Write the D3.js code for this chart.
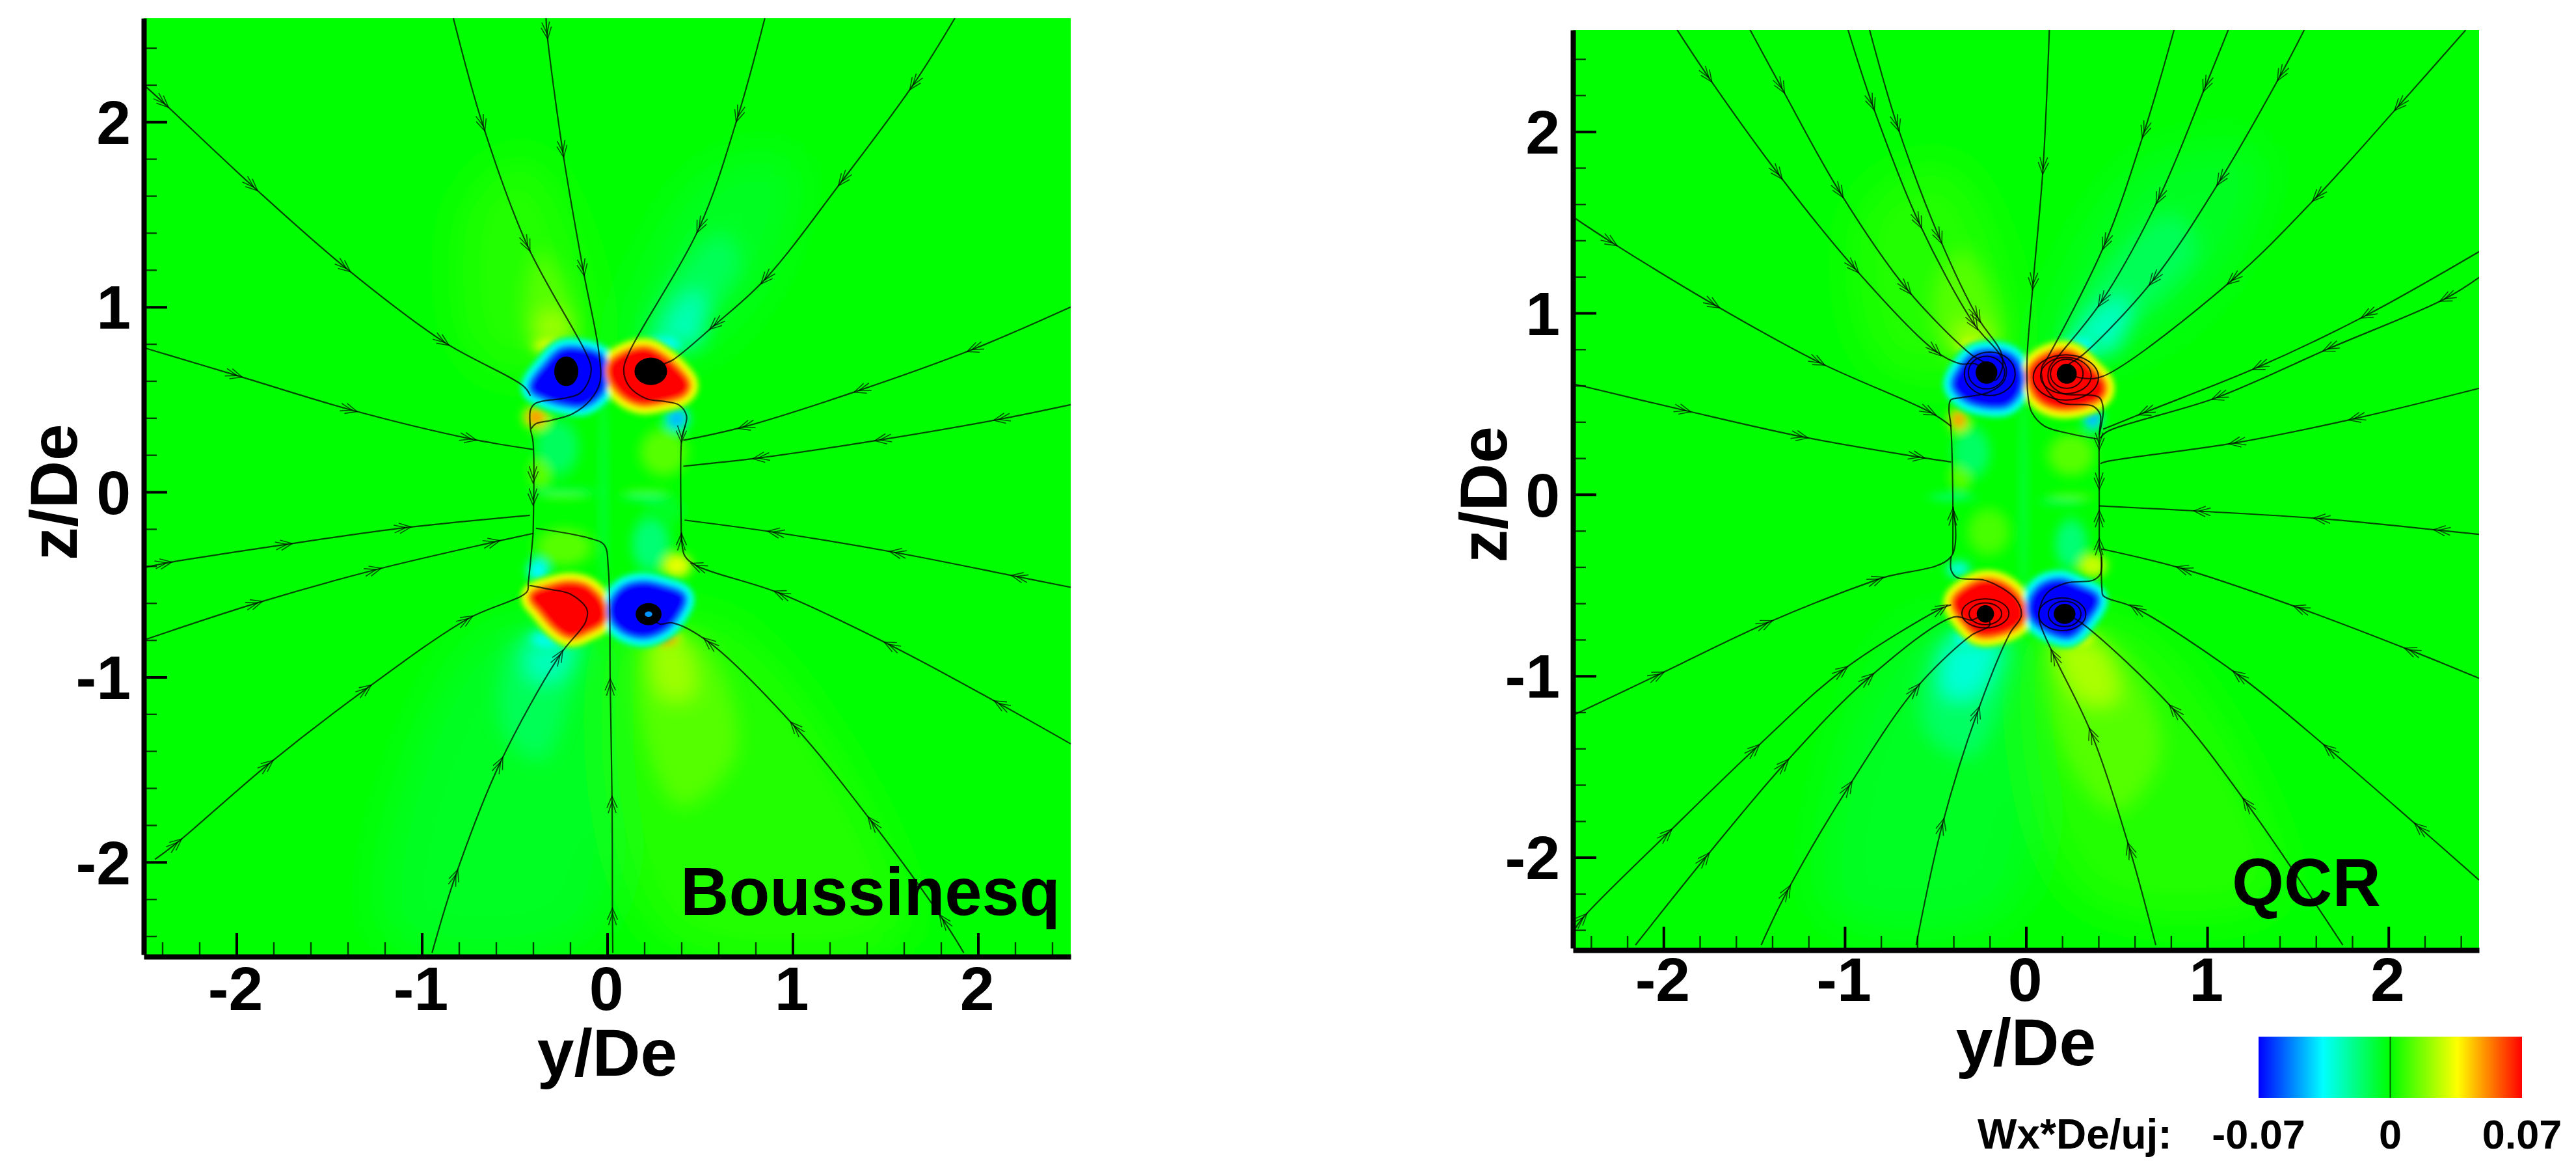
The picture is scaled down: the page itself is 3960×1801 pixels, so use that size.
<!DOCTYPE html>
<html>
<head>
<meta charset="utf-8">
<title>Wx*De/uj contours</title>
<script src="https://cdn.jsdelivr.net/npm/d3@7"></script>
<style>
html,body{margin:0;padding:0;background:#fff}
svg{display:block}
text{font-family:"Liberation Sans",Arial,sans-serif;font-weight:bold;fill:#000}
</style>
</head>
<body>
<svg id="chart" width="3960" height="1801"></svg>
<script>
// axis ticks (both panels use the same ones)
var majorTicks=[-2,-1,0,1,2];
var minorTicks=[-2.4,-2.2,-1.8,-1.6,-1.4,-1.2,-0.8,-0.6,-0.4,-0.2,0.2,0.4,0.6,0.8,1.2,1.4,1.6,1.8,2.2,2.4];
var xDomain=[-2.5,2.5];
var zDomain=[-2.5,2.56];

// colour map of the legend
var colorLevels=[-0.07,-0.0357,0,0.0357,0.07];
var colorNames=["#0000ff","#00ffff","#00ff00","#ffff00","#ff0000"];
var legendLabels=[-0.07,0,0.07];

// Boussinesq panel: saturated vortices [value, outline in y/De z/De]
var leftVortices=[
 [-0.07,[[-.396,.564],[-.315,.685],[-.244,.753],[-.162,.76],[-.04,.719],[-.028,.645],[-.04,.551],[-.127,.484],[-.233,.49],[-.338,.524]]],
 [0.07,[[.03,.685],[.106,.739],[.212,.76],[.294,.719],[.364,.659],[.422,.578],[.399,.537],[.294,.504],[.188,.49],[.095,.531],[.03,.618]]],
 [0.07,[[-.396,-.566],[-.303,-.525],[-.209,-.505],[-.116,-.525],[-.04,-.606],[-.034,-.687],[-.116,-.74],[-.197,-.767],[-.268,-.727],[-.35,-.633]]],
 [-0.07,[[.042,-.592],[.106,-.525],[.2,-.505],[.294,-.525],[.399,-.572],[.364,-.66],[.305,-.727],[.2,-.767],[.095,-.74],[.036,-.673]]]
];
// weak plumes leaving the vortices [value, outline], weakest first
var leftPlumes=[
 [0.005,[[-.7,.7],[-.75,1.6],[-.4,1.8],[-.1,.75]]],
 [-0.005,[[.1,.75],[.5,1.7],[1.0,1.8],[.9,1.2],[.5,.75]]],
 [-0.005,[[-.7,-.75],[-1.2,-2.4],[-.1,-2.4],[-.05,-.75]]],
 [0.005,[[.1,-.75],[.3,-2.4],[1.6,-2.4],[.7,-.75]]],
 [0.012,[[-.4,.8],[-.44,1.1],[-.36,1.3],[-.22,1.1],[-.18,.8]]],
 [-0.012,[[.2,.8],[.35,1.15],[.62,1.4],[.72,1.25],[.55,.95],[.45,.8]]],
 [-0.012,[[-.5,-.8],[-.56,-1.3],[-.35,-1.45],[-.2,-1.1],[-.12,-.8]]],
 [0.012,[[.2,-.8],[.22,-1.4],[.4,-1.7],[.7,-1.4],[.5,-.8]]],
 [0.022,[[-.37,.8],[-.37,.95],[-.22,.95],[-.22,.8]]],
 [-0.025,[[.3,.8],[.37,1.0],[.5,1.08],[.5,.8]]],
 [-0.026,[[-.4,-.8],[-.42,-1.0],[-.25,-1.0],[-.2,-.8]]],
 [0.022,[[.26,-.8],[.29,-1.1],[.46,-1.1],[.4,-.8]]]
];
// small spots [y, z, half width, half height, value]
var leftSpots=[
 [-.02,0,.014,.5,-.009],[.305,.215,.1,.1,.012],[-.27,.24,.09,.12,-.013],[.235,-.283,.08,.12,-.016],
 [-.233,-.296,.12,.08,.012],[-.36,.107,.05,.07,.012],[.21,-.03,.1,.013,-.016],[.21,0,.1,.012,.01],
 [-.233,-.02,.1,.012,.012],[-.233,0,.14,.012,-.014],[.315,-.1,.08,.06,-.005],
 [-.315,.793,.07,.035,.03],[.31,.8,.08,.035,-.035],[-.326,-.8,.08,.04,-.033],[.317,-.794,.06,.03,.052],
 [-.373,-.424,.045,.05,-.036],[.376,-.397,.06,.05,.032],[-.385,.403,.05,.045,.05],[.376,.396,.05,.05,-.045]
];
// streamlines, in flow direction
var leftStreamlines=[
 [[-2.5,2.2],[-2.39,2.1],[-1.91,1.65],[-1.41,1.21],[-.88,.81],[-.45,.57],[-.415,.52]],
 [[-.83,2.56],[-.67,1.98],[-.43,1.33],[-.116,.753],[-.087,.672],[-.104,.591],[-.151,.531],[-.245,.504],[-.338,.493],[-.39,.477],[-.414,.443],[-.414,.342],[-.4,.269],[-.4,-.229]],
 [[-.33,2.56],[-.325,2.48],[-.24,1.84],[-.13,1.2],[-.046,.76],[-.04,.591],[-.092,.497],[-.186,.423],[-.303,.387],[-.385,.369],[-.41,.342]],
 [[-2.5,.78],[-2,.63],[-1.38,.443],[-.737,.287],[-.4,.23]],
 [[.85,2.56],[.705,2.03],[.497,1.43],[.118,.753],[.089,.659],[.118,.571],[.212,.504],[.305,.49],[.387,.47],[.428,.41],[.41,.322],[.4,.269],[.4,-.27]],
 [[1.875,2.56],[1.65,2.2],[1.266,1.68],[.85,1.148],[.577,.9],[.353,.713],[.3,.69],[.235,.652]],
 [[2.5,1.0],[1.97,.77],[1.362,.55],[.737,.352],[.41,.279]],
 [[2.5,.472],[2.115,.393],[1.474,.282],[.817,.184],[.41,.139]],
 [[-2.5,-.41],[-2.38,-.384],[-1.73,-.283],[-1.09,-.193],[-.417,-.126]],
 [[-2.5,-.8],[-1.89,-.6],[-1.25,-.42],[-.61,-.27],[-.4,-.224]],
 [[.03,-2.49],[.028,-2.28],[.026,-1.675],[.016,-1.04],[.006,-.417],[-.016,-.286],[-.096,-.25],[-.385,-.196]],
 [[-2.44,-1.985],[-2.32,-1.895],[-1.827,-1.47],[-1.298,-1.062],[-.753,-.686],[-.433,-.539],[-.426,-.491],[-.414,-.377],[-.4,-.229]],
 [[-.945,-2.49],[-.817,-2.07],[-.577,-1.462],[-.256,-.882],[-.116,-.7],[-.11,-.633],[-.198,-.552],[-.315,-.525],[-.42,-.505]],
 [[2.5,-.515],[2.21,-.457],[1.554,-.327],[.897,-.217],[.417,-.152]],
 [[2.5,-1.361],[2.115,-1.144],[1.522,-.825],[.929,-.547],[.48,-.397],[.417,-.343],[.4,-.22]],
 [[1.923,-2.49],[1.81,-2.31],[1.426,-1.781],[1.01,-1.266],[.545,-.809],[.351,-.707],[.282,-.713],[.223,-.66]]
];
// arrows sitting on the jet wall [y, z, direction in z]
var leftWallArrows=[[-.4,.08,-1],[-.4,-.04,-1],[.4,-.256,1],[.4,.3,-1]];
// tightly wound spiral cores [y, z, half width, half height]
var leftCores=[[-.221,.652,.065,.08],[.235,.652,.088,.074],[.223,-.66,.07,.06]];
var leftCoreHoles=[[.223,-.66,.02,.015]];
var leftRings=[];

// QCR panel
var rightVortices=[
 [-0.07,[[-.385,.603],[-.35,.686],[-.278,.761],[-.182,.775],[-.086,.747],[-.044,.672],[-.05,.576],[-.11,.507],[-.206,.5],[-.326,.535]]],
 [0.07,[[.033,.672],[.081,.734],[.189,.775],[.261,.761],[.345,.686],[.416,.603],[.404,.549],[.297,.5],[.165,.494],[.069,.549]]],
 [0.07,[[-.385,-.59],[-.29,-.508],[-.206,-.487],[-.11,-.521],[-.038,-.604],[-.032,-.686],[-.11,-.741],[-.254,-.761],[-.338,-.686]]],
 [-0.07,[[.039,-.59],[.093,-.515],[.189,-.487],[.285,-.521],[.38,-.576],[.321,-.686],[.237,-.768],[.129,-.741],[.045,-.672]]]
];
var rightPlumes=[
 [0.005,[[-.8,.7],[-.9,1.6],[-.4,1.8],[-.1,.75]]],
 [-0.005,[[.1,.75],[.6,1.8],[1.3,1.9],[1.1,1.2],[.5,.75]]],
 [-0.005,[[-.7,-.75],[-1.1,-2.3],[-.1,-2.3],[-.05,-.75]]],
 [0.005,[[.08,-.75],[.3,-2.2],[1.4,-2.2],[.65,-.75]]],
 [0.012,[[-.45,.8],[-.5,1.15],[-.35,1.35],[-.18,1.1],[-.14,.8]]],
 [-0.012,[[.2,.8],[.4,1.2],[.8,1.55],[.95,1.35],[.6,.95],[.45,.8]]],
 [-0.014,[[-.48,-.8],[-.56,-1.3],[-.3,-1.45],[-.12,-1.1],[-.08,-.8]]],
 [0.012,[[.13,-.8],[.25,-1.5],[.5,-1.75],[.75,-1.4],[.45,-.8]]],
 [0.023,[[-.37,.8],[-.38,.92],[-.22,.92],[-.2,.8]]],
 [-0.027,[[.26,.8],[.38,1.0],[.55,1.08],[.5,.8]]],
 [-0.03,[[-.4,-.8],[-.45,-1.1],[-.27,-1.1],[-.17,-.8]]],
 [0.024,[[.18,-.8],[.3,-1.13],[.5,-1.13],[.38,-.8]]]
];
var rightSpots=[
 [-.014,0,.014,.5,-.009],[.249,.219,.1,.09,.012],[-.302,.233,.08,.11,-.014],[.249,-.274,.07,.11,-.016],
 [-.206,-.206,.09,.1,.01],[-.36,.1,.05,.06,.012],[-.41,-.014,.1,.012,-.02],[.2,-.04,.1,.012,-.014],[.25,-.01,.1,.012,.012],
 [-.302,.83,.07,.03,.03],[.297,.823,.08,.035,-.035],[-.314,-.8,.08,.035,-.035],[.297,-.796,.07,.035,.032],
 [-.373,-.412,.05,.035,-.03],[.369,-.391,.06,.05,.028],[-.373,.411,.04,.045,.05],[.369,.418,.04,.05,-.045]
];
var rightStreamlines=[
 [[-1.929,2.567],[-1.752,2.3],[-1.365,1.764],[-.945,1.246],[-.494,.786],[-.362,.72],[-.28,.72],[-.218,.672]],
 [[-1.526,2.567],[-1.348,2.24],[-1.026,1.664],[-.655,1.129],[-.3,.769],[-.22,.72],[-.18,.66]],
 [[-.984,2.567],[-.848,2.149],[-.59,1.497],[-.284,.936],[-.155,.786],[-.11,.7],[-.122,.624],[-.206,.563],[-.349,.535],[-.415,.521],[-.425,.466],[-.415,.384],[-.404,.014],[-.404,-.329]],
 [[-.865,2.567],[-.71,2.032],[-.477,1.413],[-.268,.978],[-.139,.786],[-.13,.7],[-.17,.63],[-.22,.66]],
 [[.129,2.567],[.094,1.798],[.039,1.162],[.006,.744],[.013,.527],[.032,.452],[.103,.376],[.248,.334],[.394,.306]],
 [[.819,2.567],[.652,1.998],[.435,1.38],[.119,.753],[.087,.7],[.1,.604],[.189,.507],[.369,.487],[.41,.439],[.404,.33],[.404,.014],[.404,-.3]],
 [[1.119,2.567],[.99,2.249],[.732,1.63],[.416,1.062],[.184,.769],[.129,.698],[.129,.617],[.201,.556],[.309,.549],[.404,.535],[.426,.472],[.404,.33]],
 [[1.539,2.567],[1.403,2.308],[1.071,1.731],[.7,1.179],[.313,.769],[.24,.72],[.18,.66]],
 [[2.426,2.559],[2.055,2.14],[1.603,1.639],[1.135,1.179],[.426,.652],[.32,.64],[.225,.665]],
 [[2.5,1.338],[1.877,.987],[1.281,.702],[.652,.451],[.426,.36]],
 [[2.5,1.196],[2.313,1.079],[1.668,.803],[1.055,.535],[.442,.343],[.41,.31]],
 [[2.5,.585],[1.813,.418],[1.152,.284],[.442,.181],[.41,.17]],
 [[-2.5,1.53],[-2.284,1.388],[-1.719,1.045],[-1.139,.727],[-.526,.452],[-.413,.376]],
 [[-2.5,.61],[-1.881,.463],[-1.235,.318],[-.59,.206],[-.413,.179]],
 [[-2.5,-1.217],[-2.026,-.992],[-1.429,-.708],[-.816,-.467],[-.413,-.342],[-.403,-.067]],
 [[-.606,-2.483],[-.461,-1.817],[-.268,-1.2],[-.09,-.767],[-.026,-.667],[-.058,-.575],[-.219,-.475],[-.381,-.458],[-.413,-.417],[-.413,-.342]],
 [[-2.5,-2.41],[-2.445,-2.333],[-1.977,-1.867],[-1.494,-1.4],[-1.01,-.967],[-.461,-.625],[-.413,-.608]],
 [[-2.155,-2.483],[-1.768,-2.0],[-1.332,-1.483],[-.865,-1.008],[-.397,-.675],[-.3,-.692],[-.229,-.653]],
 [[-1.461,-2.483],[-1.316,-2.183],[-.977,-1.608],[-.606,-1.067],[-.3,-.775],[-.2,-.72],[-.22,-.66]],
 [[.716,-2.483],[.571,-1.95],[.361,-1.317],[.152,-.883],[.075,-.7],[.075,-.631],[.117,-.542],[.225,-.487],[.369,-.473],[.41,-.439],[.416,-.343],[.404,-.3]],
 [[1.748,-2.483],[1.216,-1.7],[.813,-1.183],[.329,-.725],[.216,-.653]],
 [[2.5,-2.125],[2.168,-1.833],[1.668,-1.4],[1.168,-.992],[.603,-.625],[.426,-.558],[.419,-.52],[.416,-.343]],
 [[2.5,-1.013],[2.119,-.858],[1.506,-.625],[.861,-.408],[.416,-.3]],
 [[2.5,-.22],[2.281,-.197],[1.619,-.133],[.958,-.092],[.403,-.063]]
];
var rightWallArrows=[[.404,.06,-1],[.404,-.12,1],[.404,-.274,1],[-.404,-.11,1],[.404,.28,-1]];
var rightCores=[[-.218,.672,.06,.062],[.225,.665,.055,.055],[-.224,-.658,.048,.048],[.213,-.658,.06,.055]];
var rightCoreHoles=[];
var rightRings=[
 [-.218,.672,.1,.09],[-.2,.665,.14,.12],[.225,.665,.09,.08],[.22,.655,.14,.1],[.22,.645,.18,.125],
 [-.224,-.658,.09,.06],[-.224,-.655,.13,.08],[.213,-.658,.09,.07],[.2,-.66,.13,.09]
];

var svg=d3.select("#chart");
var defs=svg.append("defs");
var color=d3.scaleLinear().domain(colorLevels).range(colorNames).clamp(true);

var addBlur=function(id,amount){
	defs.append("filter").attr("id",id)
		.attr("filterUnits","userSpaceOnUse").attr("x",0).attr("y",0).attr("width",3960).attr("height",1801)
		.append("feGaussianBlur").attr("stdDeviation",amount);
};
addBlur("blurWider",34);
addBlur("blurWide",15);
addBlur("blurSpot",7);
addBlur("blurEdge",3.5);
addBlur("blurLine",0.6);

var drawPanel=function(cfg){
	var x=d3.scaleLinear().domain(xDomain).range(cfg.xRange);
	var z=d3.scaleLinear().domain(zDomain).range(cfg.zRange);
	var unitX=function(v){return x(v)-x(0)};
	var unitZ=function(v){return z(0)-z(v)};
	var closed=d3.line().x(function(d){return x(d[0])}).y(function(d){return z(d[1])}).curve(d3.curveCatmullRomClosed);
	var smooth=d3.line().x(function(d){return x(d[0])}).y(function(d){return z(d[1])}).curve(d3.curveCatmullRom);

	defs.append("clipPath").attr("id",cfg.id+"Clip").append("rect")
		.attr("x",cfg.xRange[0]).attr("y",cfg.zRange[1])
		.attr("width",cfg.xRange[1]-cfg.xRange[0]).attr("height",cfg.zRange[0]-cfg.zRange[1]);

	var g=svg.append("g").attr("clip-path","url(#"+cfg.id+"Clip)");
	g.append("rect")
		.attr("x",cfg.xRange[0]).attr("y",cfg.zRange[1])
		.attr("width",cfg.xRange[1]-cfg.xRange[0]).attr("height",cfg.zRange[0]-cfg.zRange[1])
		.attr("fill",color(0));

	g.append("g").attr("filter","url(#blurWider)").selectAll("path")
		.data(cfg.plumes.filter(function(d){return Math.abs(d[0])<0.008})).enter().append("path")
		.attr("d",function(d){return closed(d[1])})
		.attr("fill",function(d){return color(d[0])});
	g.append("g").attr("filter","url(#blurWide)").selectAll("path")
		.data(cfg.plumes.filter(function(d){return Math.abs(d[0])>=0.008})).enter().append("path")
		.attr("d",function(d){return closed(d[1])})
		.attr("fill",function(d){return color(d[0])});

	var spots=g.append("g").attr("filter","url(#blurSpot)");
	var byStrength=cfg.spots.slice().sort(function(a,b){return Math.abs(a[4])-Math.abs(b[4])});
	spots.selectAll("ellipse.halo").data(byStrength).enter().append("ellipse").attr("class","halo")
		.attr("cx",function(d){return x(d[0])}).attr("cy",function(d){return z(d[1])})
		.attr("rx",function(d){return unitX(d[2])*1.5}).attr("ry",function(d){return unitZ(d[3])*1.5})
		.attr("fill",function(d){return color(d[4]*0.45)});
	spots.selectAll("ellipse.spot").data(byStrength).enter().append("ellipse").attr("class","spot")
		.attr("cx",function(d){return x(d[0])}).attr("cy",function(d){return z(d[1])})
		.attr("rx",function(d){return unitX(d[2])}).attr("ry",function(d){return unitZ(d[3])})
		.attr("fill",function(d){return color(d[4])});

	// colour bands round each saturated vortex, widest first
	var vort=g.append("g").attr("filter","url(#blurEdge)");
	[[0.25,44],[0.5,32],[0.75,20],[1,8]].forEach(function(band){
		vort.append("g").selectAll("path").data(cfg.vortices).enter().append("path")
			.attr("d",function(d){return closed(d[1])})
			.attr("fill",function(d){return color(d[0]*band[0])})
			.attr("stroke",function(d){return color(d[0]*band[0])})
			.attr("stroke-width",band[1]).attr("stroke-linejoin","round");
	});

	var lines=g.append("g").attr("filter","url(#blurLine)");
	lines.selectAll("path.stream").data(cfg.streamlines).enter().append("path").attr("class","stream")
		.attr("d",smooth).attr("fill","none").attr("stroke","#000").attr("stroke-width",2.2).attr("stroke-opacity",0.72);

	// arrows on the vertices outside the vortex region
	var arrows=[];
	cfg.streamlines.forEach(function(line){
		for(var i=1;i<line.length-1;i++){
			if(Math.abs(line[i][1])>0.8||Math.abs(line[i][0])>0.46){
				var dx=x(line[i+1][0])-x(line[i-1][0]);
				var dy=z(line[i+1][1])-z(line[i-1][1]);
				arrows.push({x:x(line[i][0]),y:z(line[i][1]),a:Math.atan2(dy,dx)*180/Math.PI});
			}
		}
	});
	cfg.wallArrows.forEach(function(d){
		arrows.push({x:x(d[0]),y:z(d[1]),a:d[2]>0?-90:90});
	});
	lines.selectAll("path.arrow").data(arrows).enter().append("path").attr("class","arrow")
		.attr("transform",function(d){return "translate("+d.x+","+d.y+") rotate("+d.a+")"})
		.attr("d","M-9,-8L9,0L-9,8M-17,-6L1,0L-17,6")
		.attr("fill","none").attr("stroke","#000").attr("stroke-width",1.6).attr("stroke-opacity",0.65);

	lines.selectAll("ellipse.ring").data(cfg.rings).enter().append("ellipse").attr("class","ring")
		.attr("cx",function(d){return x(d[0])}).attr("cy",function(d){return z(d[1])})
		.attr("rx",function(d){return unitX(d[2])}).attr("ry",function(d){return unitZ(d[3])})
		.attr("fill","none").attr("stroke","#000").attr("stroke-width",2).attr("stroke-opacity",0.8);
	lines.selectAll("ellipse.core").data(cfg.cores).enter().append("ellipse").attr("class","core")
		.attr("cx",function(d){return x(d[0])}).attr("cy",function(d){return z(d[1])})
		.attr("rx",function(d){return unitX(d[2])}).attr("ry",function(d){return unitZ(d[3])})
		.attr("fill","#000");
	lines.selectAll("ellipse.hole").data(cfg.holes).enter().append("ellipse").attr("class","hole")
		.attr("cx",function(d){return x(d[0])}).attr("cy",function(d){return z(d[1])})
		.attr("rx",function(d){return unitX(d[2])}).attr("ry",function(d){return unitZ(d[3])})
		.attr("fill",color(-0.05));

	// axes: only left and bottom spines, ticks point inward
	var bottom=cfg.zRange[0]+cfg.axisShift;
	var left=cfg.xRange[0];
	var axisB=svg.append("g").attr("transform","translate(0,"+bottom+")")
		.call(d3.axisBottom(x).tickValues(majorTicks).tickSize(-36).tickSizeOuter(0).tickFormat(String));
	var axisBm=svg.append("g").attr("transform","translate(0,"+bottom+")")
		.call(d3.axisBottom(x).tickValues(minorTicks).tickSize(-22).tickSizeOuter(0).tickFormat(""));
	var axisL=svg.append("g").attr("transform","translate("+left+",0)")
		.call(d3.axisLeft(z).tickValues(majorTicks).tickSize(-36).tickSizeOuter(0).tickFormat(String));
	var axisLm=svg.append("g").attr("transform","translate("+left+",0)")
		.call(d3.axisLeft(z).tickValues(minorTicks).tickSize(-20).tickSizeOuter(0).tickFormat(""));
	[axisB,axisL].forEach(function(a){
		a.selectAll(".tick line").attr("stroke","#000").attr("stroke-width",4);
		a.select(".domain").attr("stroke","#000").attr("stroke-width",8);
		a.selectAll("text").style("font-size","95px").attr("font-family",null);
	});
	[axisBm,axisLm].forEach(function(a){
		a.selectAll(".tick line").attr("stroke","#000").attr("stroke-width",2.4).attr("stroke-opacity",0.75);
		a.select(".domain").remove();
	});
	axisB.selectAll("text").attr("y",cfg.tickBase).attr("dy",0).attr("dx","-0.02em");
	axisL.selectAll("text").attr("x",-20).attr("dy","0.35em");

	svg.append("text").attr("x",x(0)).attr("y",cfg.xLabelBase)
		.attr("text-anchor","middle").style("font-size","102px").text("y/De");
	svg.append("text").attr("transform","translate("+cfg.zLabelBase+","+z(0)+") rotate(-90)")
		.attr("text-anchor","middle").style("font-size","102px").text("z/De");
	svg.append("text").attr("x",cfg.nameX).attr("y",cfg.nameY).style("font-size",cfg.nameSize+"px").text(cfg.name);
};

drawPanel({id:"left",name:"Boussinesq",xRange:[221,1646],zRange:[1467,28],axisShift:3,tickBase:82,xLabelBase:1653,zLabelBase:118,nameX:1046,nameY:1406,nameSize:103,
	vortices:leftVortices,plumes:leftPlumes,spots:leftSpots,streamlines:leftStreamlines,wallArrows:leftWallArrows,cores:leftCores,holes:leftCoreHoles,rings:leftRings});
drawPanel({id:"right",name:"QCR",xRange:[2418,3811],zRange:[1457,46],axisShift:3,tickBase:78,xLabelBase:1637,zLabelBase:2316,nameX:3431,nameY:1392,nameSize:103,
	vortices:rightVortices,plumes:rightPlumes,spots:rightSpots,streamlines:rightStreamlines,wallArrows:rightWallArrows,cores:rightCores,holes:rightCoreHoles,rings:rightRings});

// colour legend
var legendX=d3.scaleLinear().domain([-0.07,0.07]).range([3472,3877]);
var grad=defs.append("linearGradient").attr("id","legendGrad");
colorLevels.forEach(function(v,i){
	grad.append("stop").attr("offset",((v+0.07)/0.14*100)+"%").attr("stop-color",colorNames[i]);
});
svg.append("rect").attr("x",legendX(-0.07)).attr("y",1593).attr("width",legendX(0.07)-legendX(-0.07)).attr("height",94).attr("fill","url(#legendGrad)");
svg.append("line").attr("x1",legendX(0)).attr("x2",legendX(0)).attr("y1",1593).attr("y2",1687).attr("stroke","#006000").attr("stroke-width",2);
svg.selectAll("text.legend").data(legendLabels).enter().append("text").attr("class","legend")
	.attr("x",function(d){return legendX(d)}).attr("y",1765).attr("text-anchor","middle")
	.style("font-size","63px").text(String);
svg.append("text").attr("x",3040).attr("y",1765).style("font-size","64px").text("Wx*De/uj:");
</script>
</body>
</html>
